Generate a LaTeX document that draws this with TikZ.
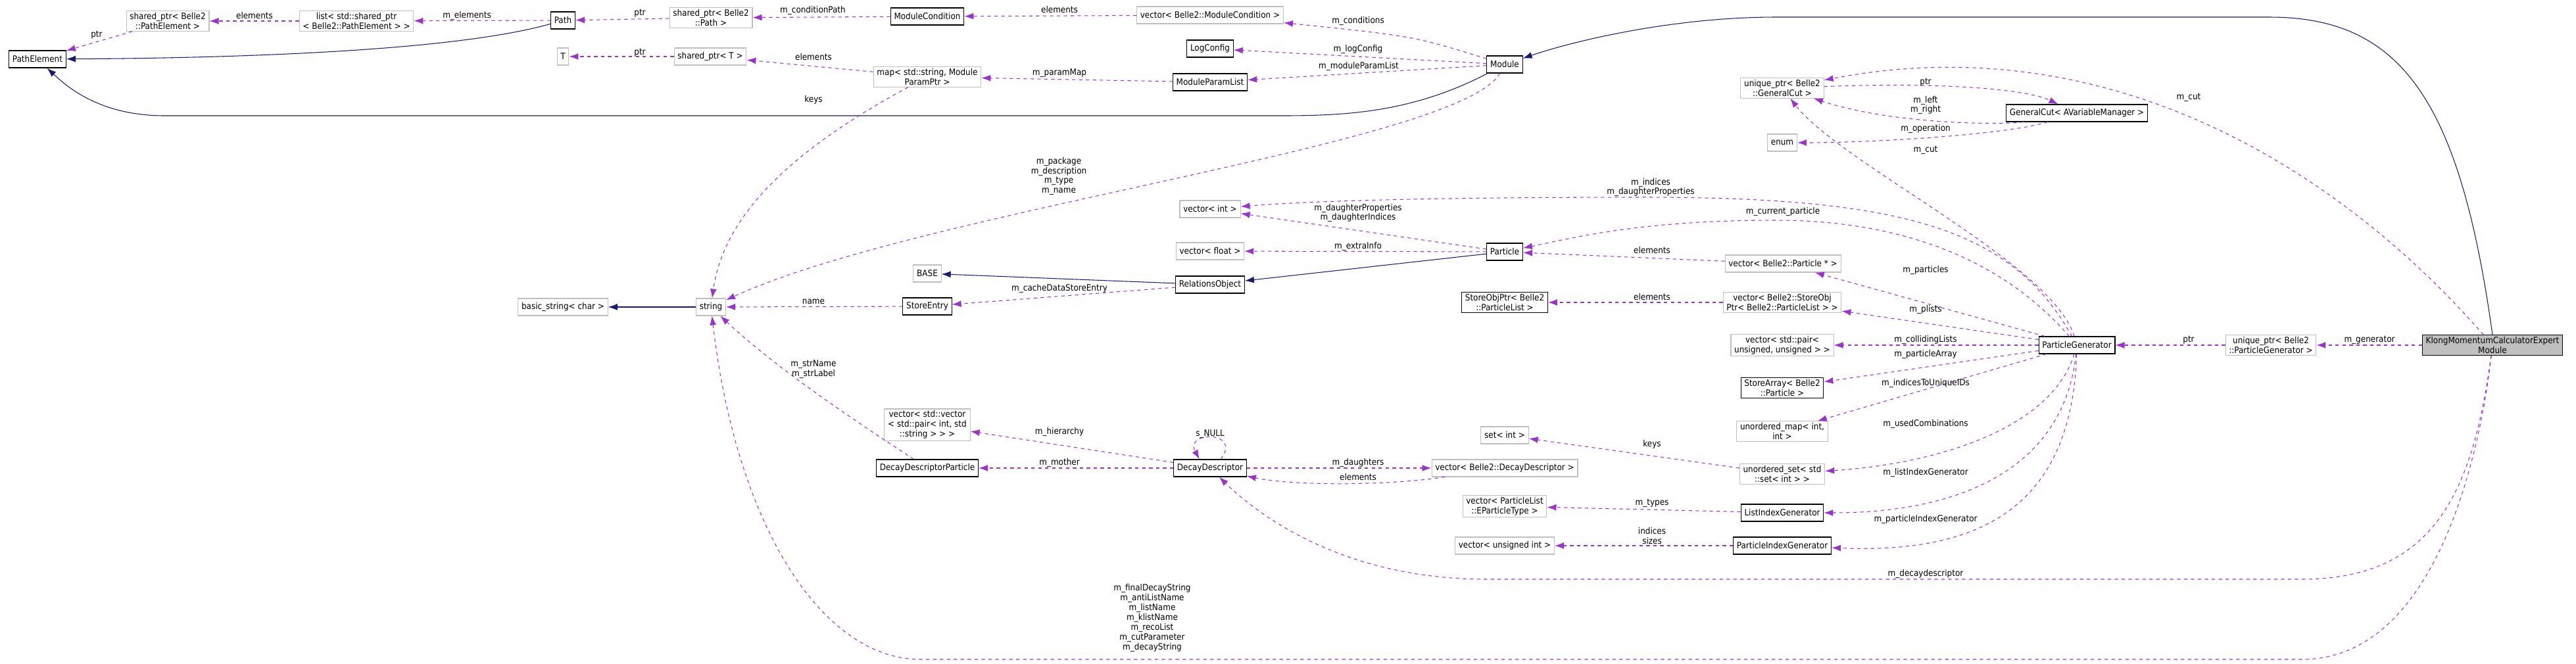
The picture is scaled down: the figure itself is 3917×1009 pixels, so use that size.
\documentclass[tikz,border=0pt]{standalone}
\usepackage{fontspec}
\setmainfont{DejaVu Sans Condensed}
\usetikzlibrary{arrows.meta}
\definecolor{memcol}{HTML}{9A32CD}
\definecolor{inhcol}{HTML}{191970}
\definecolor{extcol}{HTML}{BFBFBF}
\begin{document}
\begin{tikzpicture}[
    x=0.02cm, y=-0.02cm,
    font=\fontsize{7.6}{8.5}\selectfont,
    cls/.style={draw=black,fill=white,line width=0.6pt,minimum height=0.52cm,inner xsep=3pt,inner ysep=1.5pt,align=center},
    ext/.style={draw=extcol,fill=white,line width=0.6pt,minimum height=0.52cm,inner xsep=3pt,inner ysep=1.5pt,align=center},
    mainnode/.style={cls,fill=extcol},
    mem/.style={draw=memcol,dashed,line width=0.6pt,-{Latex[length=0.28cm,width=0.2cm]}},
    inh/.style={draw=inhcol,line width=0.6pt,-{Latex[length=0.28cm,width=0.2cm]}},
    lbl/.style={align=center,inner sep=0pt},
]
    \useasboundingbox (0,0) rectangle (3917,1009);

    % classes
    \node [cls] (pe) at (57,90) {PathElement};
    \node [ext] (sppe) at (255,32) {shared\_ptr< Belle2\\::PathElement >};
    \node [ext] (lst) at (542,32) {list< std::shared\_ptr\\< Belle2::PathElement > >};
    \node [cls] (path) at (856,31) {Path};
    \node [ext] (t) at (856,86) {T};
    \node [ext] (sppath) at (1081,27) {shared\_ptr< Belle2\\::Path >};
    \node [ext] (spt) at (1080,86) {shared\_ptr< T >};
    \node [cls] (mc) at (1410,25) {ModuleCondition};
    \node [ext] (vmc) at (1840,23) {vector< Belle2::ModuleCondition >};
    \node [cls] (logc) at (1840,74) {LogConfig};
    \node [ext] (pmap) at (1410,117) {map< std::string, Module\\ParamPtr >};
    \node [cls] (mpl) at (1840,125) {ModuleParamList};
    \node [cls] (module) at (2288,98) {Module};
    \node [ext] (ugc) at (2710,134) {unique\_ptr< Belle2\\::GeneralCut >};
    \node [ext] (enum) at (2710,217) {enum};
    \node [cls] (gcut) at (3158,172) {GeneralCut< AVariableManager >};
    \node [ext] (bstr) at (856,467) {basic\_string< char >};
    \node [ext] (str) at (1081,467) {string};
    \node [ext] (base) at (1410,416) {BASE};
    \node [cls] (sentry) at (1410,466) {StoreEntry};
    \node [cls] (relo) at (1840,433) {RelationsObject};
    \node [ext] (vint) at (1840,318) {vector< int >};
    \node [ext] (vfloat) at (1840,382) {vector< float >};
    \node [cls] (part) at (2288,383) {Particle};
    \node [ext] (vpart) at (2711,401) {vector< Belle2::Particle * >};
    \node [cls] (sop) at (2288,460) {StoreObjPtr< Belle2\\::ParticleList >};
    \node [ext] (vsop) at (2710,460) {vector< Belle2::StoreObj\\Ptr< Belle2::ParticleList > >};
    \node [ext] (vpair) at (2710,525) {vector< std::pair<\\unsigned, unsigned > >};
    \node [cls] (pgen) at (3158,525) {ParticleGenerator};
    \node [ext] (upg) at (3453,525) {unique\_ptr< Belle2\\::ParticleGenerator >};
    \node [mainnode] (klong) at (3790,525) {KlongMomentumCalculatorExpert\\Module};
    \node [cls] (sarr) at (2710,590) {StoreArray< Belle2\\::Particle >};
    \node [ext] (umap) at (2710,656) {unordered\_map< int,\\int >};
    \node [ext] (sint) at (2288,662) {set< int >};
    \node [ext] (vdd) at (2288,712) {vector< Belle2::DecayDescriptor >};
    \node [ext] (uset) at (2710,721) {unordered\_set< std\\::set< int > >};
    \node [ext] (vple) at (2288,770) {vector< ParticleList\\::EParticleType >};
    \node [cls] (lig) at (2710,780) {ListIndexGenerator};
    \node [ext] (vuint) at (2288,830) {vector< unsigned int >};
    \node [cls] (pig) at (2710,830) {ParticleIndexGenerator};
    \node [ext] (vvec) at (1410,646) {vector< std::vector\\< std::pair< int, std\\::string > > >};
    \node [cls] (ddp) at (1410,712) {DecayDescriptorParticle};
    \node [cls] (dd) at (1840,712) {DecayDescriptor};

    % inheritance
    \draw [inh] (path) .. controls (700,75) and (400,88) .. (pe);
    \draw [inh] (module) .. controls (2150,170) and (2050,176) .. (1950,176) -- (250,176) .. controls (150,176) and (100,130) .. (pe);
    \draw [inh] (klong.north) .. controls (3740,150) and (3650,26) .. (3450,26) -- (2700,26) .. controls (2550,26) and (2400,60) .. (module);
    \draw [inh] (part) -- (relo);
    \draw [inh] (relo) -- (base);
    \draw [inh] (str) -- (bstr);

    % members
    \draw [mem] (sppe) -- (pe) node [lbl] at (147,53) {ptr};
    \draw [mem] (lst) -- (sppe) node [lbl] at (387,24) {elements};
    \draw [mem] (path) -- (lst) node [lbl] at (710,24) {m\_elements};
    \draw [mem] (sppath) -- (path) node [lbl] at (973,20) {ptr};
    \draw [mem] (spt) -- (t) node [lbl] at (973,80) {ptr};
    \draw [mem] (mc) -- (sppath) node [lbl] at (1236,16) {m\_conditionPath};
    \draw [mem] (vmc) -- (mc) node [lbl] at (1611,15) {elements};
    \draw [mem] (module) .. controls (2150,55) .. (vmc) node [lbl] at (2065,32) {m\_conditions};
    \draw [mem] (module) -- (logc) node [lbl] at (2065,75) {m\_logConfig};
    \draw [mem] (module) -- (mpl) node [lbl] at (2066,101) {m\_moduleParamList};
    \draw [mem] (mpl) -- (pmap) node [lbl] at (1611,111) {m\_paramMap};
    \draw [mem] (pmap) -- (spt) node [lbl] at (1237,87) {elements};
    \draw [mem] (pmap) .. controls (1200,230) and (1100,330) .. (str) node [lbl] at (1237,152) {keys};
    \draw [mem] (module) .. controls (2220,220) and (1400,320) .. (str)
        node [lbl] at (1610,268) {m\_package\\m\_description\\m\_type\\m\_name};
    \draw [mem] (sentry) -- (str) node [lbl] at (1237,459) {name};
    \draw [mem] (relo) -- (sentry) node [lbl] at (1611,439) {m\_cacheDataStoreEntry};
    \draw [mem] (ddp) .. controls (1300,640) and (1180,560) .. (str) node [lbl] at (1237,562) {m\_strName\\m\_strLabel};
    \draw [mem] (klong) .. controls (3770,700) and (3700,1003) .. (3500,1003) -- (1400,1003) .. controls (1250,1003) and (1120,800) .. (str)
        node [lbl] at (1752,940) {m\_finalDecayString\\m\_antiListName\\m\_listName\\m\_klistName\\m\_recoList\\m\_cutParameter\\m\_decayString};
    \draw [mem] (part) -- (vint) node [lbl] at (2065,324) {m\_daughterProperties\\m\_daughterIndices};
    \draw [mem] (pgen) .. controls (3060,350) and (2900,300) .. (2500,300) .. controls (2200,300) and (2000,305) .. (vint)
        node [lbl] at (2510,285) {m\_indices\\m\_daughterProperties};
    \draw [mem] (part) -- (vfloat) node [lbl] at (2065,375) {m\_extraInfo};
    \draw [mem] (pgen) .. controls (3050,400) and (2900,335) .. (2700,335) .. controls (2500,335) and (2400,360) .. (part)
        node [lbl] at (2711,322) {m\_current\_particle};
    \draw [mem] (vpart) -- (part) node [lbl] at (2512,381) {elements};
    \draw [mem] (pgen) -- (vpart) node [lbl] at (2928,411) {m\_particles};
    \draw [mem] (vsop) -- (sop) node [lbl] at (2512,452) {elements};
    \draw [mem] (pgen) -- (vsop) node [lbl] at (2928,471) {m\_plists};
    \draw [mem] (pgen) -- (vpair) node [lbl] at (2928,517) {m\_collidingLists};
    \draw [mem] (pgen) -- (sarr) node [lbl] at (2928,539) {m\_particleArray};
    \draw [mem] (pgen) -- (umap) node [lbl] at (2928,583) {m\_indicesToUniqueIDs};
    \draw [mem] (pgen) .. controls (3120,650) and (2950,705) .. (uset) node [lbl] at (2928,645) {m\_usedCombinations};
    \draw [mem] (uset) -- (sint) node [lbl] at (2512,676) {keys};
    \draw [mem] (pgen) .. controls (3140,700) and (3000,780) .. (lig) node [lbl] at (2928,719) {m\_listIndexGenerator};
    \draw [mem] (pgen) .. controls (3150,780) and (3000,842) .. (pig) node [lbl] at (2928,790) {m\_particleIndexGenerator};
    \draw [mem] (lig) -- (vple) node [lbl] at (2512,765) {m\_types};
    \draw [mem] (pig) -- (vuint) node [lbl] at (2512,815) {indices\\sizes};
    \draw [mem] (dd.40) .. controls (1890,655) and (1800,655) .. (dd.140) node [lbl] at (1840,660) {s\_NULL};
    \draw [mem] (dd) -- (ddp) node [lbl] at (1611,704) {m\_mother};
    \draw [mem] (dd) -- (vvec) node [lbl] at (1611,657) {m\_hierarchy};
    \draw [mem] (dd) -- (vdd) node [lbl] at (2065,704) {m\_daughters};
    \draw [mem] (vdd) .. controls (2100,740) and (1960,738) .. (dd) node [lbl] at (2065,726) {elements};
    \draw [mem] (klong) .. controls (3760,750) and (3700,881) .. (3500,881) -- (2260,881) .. controls (2050,881) and (1920,790) .. (dd)
        node [lbl] at (2928,873) {m\_decaydescriptor};
    \draw [mem] (pgen) .. controls (3120,400) and (2800,250) .. (ugc) node [lbl] at (2928,228) {m\_cut};
    \draw [mem] (ugc) .. controls (2950,125) and (3080,135) .. (gcut) node [lbl] at (2928,125) {ptr};
    \draw [mem] (gcut) .. controls (3050,190) and (2880,190) .. (ugc) node [lbl] at (2928,160) {m\_left\\m\_right};
    \draw [mem] (gcut) .. controls (3050,205) and (2850,217) .. (enum) node [lbl] at (2928,196) {m\_operation};
    \draw [mem] (klong) .. controls (3550,250) and (3200,40) .. (ugc) node [lbl] at (3328,148) {m\_cut};
    \draw [mem] (upg) -- (pgen) node [lbl] at (3328,517) {ptr};
    \draw [mem] (klong) -- (upg) node [lbl] at (3603,517) {m\_generator};
\end{tikzpicture}
\end{document}
